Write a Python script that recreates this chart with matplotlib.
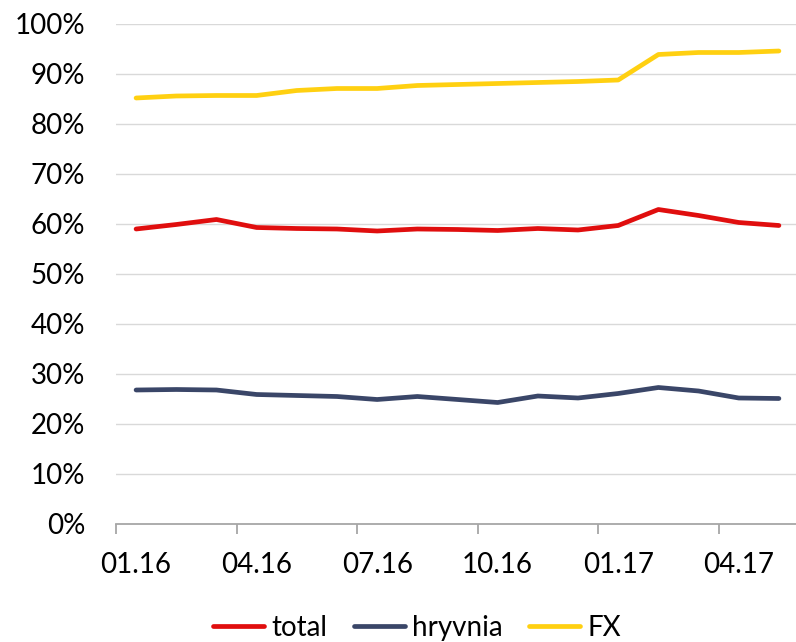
import matplotlib
matplotlib.use("Agg")
import matplotlib.pyplot as plt
from matplotlib.ticker import FixedLocator, FuncFormatter

plt.rcParams['font.family'] = ['Lato', 'DejaVu Sans']

months = ["01.16", "02.16", "03.16", "04.16", "05.16", "06.16", "07.16", "08.16",
          "09.16", "10.16", "11.16", "12.16", "01.17", "02.17", "03.17", "04.17", "05.17"]
total = [59.0, 59.9, 60.9, 59.3, 59.1, 59.0, 58.6, 59.0, 58.9, 58.7, 59.1, 58.8,
         59.7, 62.9, 61.7, 60.3, 59.7]
hryvnia = [26.8, 26.9, 26.8, 25.9, 25.7, 25.5, 24.9, 25.5, 24.9, 24.3, 25.6, 25.2,
           26.1, 27.3, 26.6, 25.2, 25.1]
fx = [85.2, 85.6, 85.7, 85.7, 86.7, 87.1, 87.1, 87.7, 87.9, 88.1, 88.3, 88.5,
      88.8, 93.9, 94.3, 94.3, 94.6]

colors = {"total": "#E00E0E", "hryvnia": "#3A4668", "FX": "#FFD011"}

fig = plt.figure(figsize=(7.96, 6.42), dpi=100)
ax = fig.add_axes([116 / 796, 1 - 524 / 642, 683 / 796, 500 / 642])

x = list(range(len(months)))
lw = 3.4
ax.plot(x, total, color=colors["total"], lw=lw, label="total", solid_capstyle="round")
ax.plot(x, hryvnia, color=colors["hryvnia"], lw=lw, label="hryvnia", solid_capstyle="round")
ax.plot(x, fx, color=colors["FX"], lw=lw, label="FX", solid_capstyle="round")

ax.set_xlim(-0.5, len(months) - 0.5)
ax.set_ylim(0, 100)

# y axis: gridlines every 10%
ax.yaxis.set_major_locator(FixedLocator(range(0, 101, 10)))
ax.yaxis.set_major_formatter(FuncFormatter(lambda v, p: f"{int(v)}%"))
ax.tick_params(axis="y", length=0, pad=22, labelsize=20, colors="black")
for v in range(10, 101, 10):
    ax.axhline(v, color="#D9D9D9", lw=1.0, zorder=0)

# x axis: tick marks between quarters, labels under each quarter's first month
ax.xaxis.set_major_locator(FixedLocator([i - 0.5 for i in range(0, len(months), 3)]))
ax.xaxis.set_major_formatter(FuncFormatter(lambda v, p: ""))
ax.xaxis.set_minor_locator(FixedLocator(list(range(0, len(months), 3))))
ax.set_xticklabels([months[i] for i in range(0, len(months), 3)], minor=True)
ax.tick_params(axis="x", which="major", length=7, width=1.3, color="#A6A6A6", direction="out")
ax.tick_params(axis="x", which="minor", length=0, pad=20.5, labelsize=20, colors="black")

for s in ["left", "right", "top"]:
    ax.spines[s].set_visible(False)
ax.spines["bottom"].set_color("#A6A6A6")
ax.spines["bottom"].set_linewidth(1.3)

fig.legend(loc="center", bbox_to_anchor=(417 / 796, 0.022), ncol=3, frameon=False,
           fontsize=20, handlelength=1.85, handletextpad=0.25, columnspacing=0.95,
           borderaxespad=0)

fig.savefig("out.png", dpi=100)
